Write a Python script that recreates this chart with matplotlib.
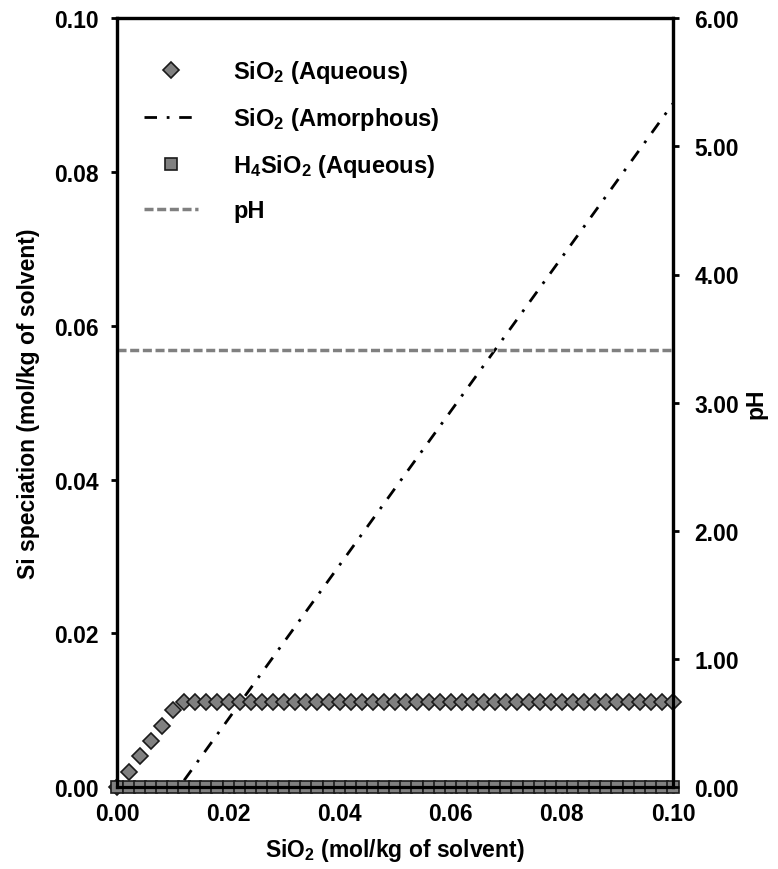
import numpy as np
import matplotlib
matplotlib.use("Agg")
import matplotlib.pyplot as plt
from matplotlib.lines import Line2D

plt.rcParams['font.family'] = ['Liberation Sans', 'DejaVu Sans']
plt.rcParams['font.weight'] = 'bold'
plt.rcParams['axes.labelweight'] = 'bold'
plt.rcParams['mathtext.fontset'] = 'custom'
plt.rcParams['mathtext.rm'] = 'Liberation Sans:bold'
plt.rcParams['mathtext.it'] = 'Liberation Sans:bold'
plt.rcParams['mathtext.bf'] = 'Liberation Sans:bold'

# x grid: SiO2 added (mol/kg of solvent), steps of 0.002
sio2_added = np.round(np.arange(51) * 0.002, 3)

# SiO2 (Aqueous)
sio2_aq = [0.000, 0.002, 0.004, 0.006, 0.008, 0.010,
           0.0111, 0.0111, 0.0111, 0.0111, 0.0111, 0.0111, 0.0111, 0.0111, 0.0111, 0.0111,
           0.0111, 0.0111, 0.0111, 0.0111, 0.0111, 0.0111, 0.0111, 0.0111, 0.0111, 0.0111,
           0.0111, 0.0111, 0.0111, 0.0111, 0.0111, 0.0111, 0.0111, 0.0111, 0.0111, 0.0111,
           0.0111, 0.0111, 0.0111, 0.0111, 0.0111, 0.0111, 0.0111, 0.0111, 0.0111, 0.0111,
           0.0111, 0.0111, 0.0111, 0.0111, 0.0111]

# H4SiO2 (Aqueous) - stays at zero
h4sio2_aq = [0.0, 0.0, 0.0, 0.0, 0.0, 0.0, 0.0, 0.0, 0.0, 0.0,
             0.0, 0.0, 0.0, 0.0, 0.0, 0.0, 0.0, 0.0, 0.0, 0.0,
             0.0, 0.0, 0.0, 0.0, 0.0, 0.0, 0.0, 0.0, 0.0, 0.0,
             0.0, 0.0, 0.0, 0.0, 0.0, 0.0, 0.0, 0.0, 0.0, 0.0,
             0.0, 0.0, 0.0, 0.0, 0.0, 0.0, 0.0, 0.0, 0.0, 0.0, 0.0]

# SiO2 (Amorphous) - straight line once saturation is reached
amorph_x = [0.012, 0.100]
amorph_y = [0.0009, 0.0889]

# pH (right axis)
ph_x = [0.0, 0.1]
ph_y = [3.41, 3.41]

fig = plt.figure(figsize=(7.78, 8.7), dpi=100)
ax = fig.add_subplot(111)
fig.subplots_adjust(left=0.151, right=0.865, bottom=0.094, top=0.978)
ax2 = ax.twinx()

grey = '#808080'
edge = '#1a1a1a'
dashdot = (0, (4.5, 3.5, 1, 3.5))
dashed = (0, (2.6, 1.05))

ax.plot(amorph_x, amorph_y, color='black', lw=2, linestyle=dashdot, zorder=3)
ax.plot(sio2_added, sio2_aq, 'D', ms=7.8, mfc=grey, mec=edge, mew=1.2,
        linestyle='none', clip_on=False, zorder=4)
ax.plot(sio2_added, h4sio2_aq, 's', ms=8, mfc=grey, mec=edge, mew=1.2,
        linestyle='none', clip_on=False, zorder=5)
ax2.plot(ph_x, ph_y, color=grey, lw=2.5, linestyle=dashed)

ax.set_xlim(0, 0.1)
ax.set_ylim(0, 0.1)
ax2.set_ylim(0, 6)
ax.set_xticks(np.arange(0, 0.101, 0.02))
ax.set_yticks(np.arange(0, 0.101, 0.02))
ax2.set_yticks(np.arange(0, 6.01, 1))
ax.xaxis.set_major_formatter(plt.FormatStrFormatter('%.2f'))
ax.yaxis.set_major_formatter(plt.FormatStrFormatter('%.2f'))
ax2.yaxis.set_major_formatter(plt.FormatStrFormatter('%.2f'))

for a in (ax, ax2):
    for s in a.spines.values():
        s.set_linewidth(2.3)
    a.tick_params(direction='out', length=4.5, width=2, labelsize=16.5)
ax.tick_params(axis='y', pad=9)
ax.tick_params(axis='x', pad=6)
ax2.tick_params(axis='y', pad=11)

ax.set_xlabel('SiO$_2$ (mol/kg of solvent)', fontsize=16.5, labelpad=8)
ax.set_ylabel('Si speciation (mol/kg of solvent)', fontsize=16.5, labelpad=10)
ax2.set_ylabel('pH', fontsize=16.5, labelpad=4)

handles = [
    Line2D([], [], marker='D', ms=7.8, mfc=grey, mec=edge, mew=1.2, linestyle='none'),
    Line2D([], [], color='black', lw=2, linestyle=dashdot),
    Line2D([], [], marker='s', ms=8, mfc=grey, mec=edge, mew=1.2, linestyle='none'),
    Line2D([], [], color=grey, lw=2.5, linestyle=dashed),
]
labels = ['SiO$_2$ (Aqueous)', 'SiO$_2$ (Amorphous)', 'H$_4$SiO$_2$ (Aqueous)', 'pH']
ax2.legend(handles, labels, loc='upper left', bbox_to_anchor=(0.047, 0.948),
           frameon=False, fontsize=17, handlelength=2.3, handletextpad=1.5,
           labelspacing=0.85, borderpad=0, borderaxespad=0)

fig.savefig('out.png', dpi=100)
